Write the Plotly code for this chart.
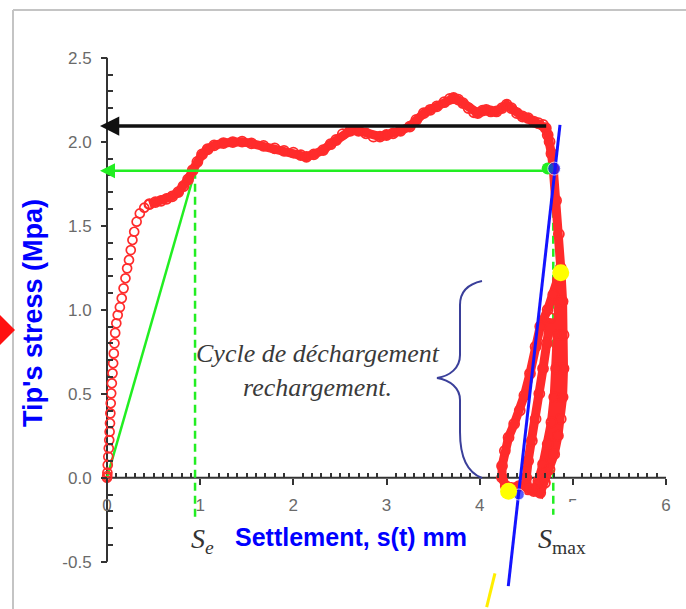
import plotly.graph_objects as go

# ---------------- data ----------------
# initial loading branch: individually visible open circles
load_s_sparse = [0.000, 0.002, 0.004, 0.008, 0.014, 0.019, 0.024, 0.028, 0.032, 0.036,
                 0.040, 0.045, 0.052, 0.059, 0.066, 0.073, 0.080, 0.088, 0.100, 0.115,
                 0.138, 0.158, 0.178, 0.198, 0.216, 0.236, 0.255, 0.273, 0.292, 0.318,
                 0.352, 0.400, 0.455]
load_q_sparse = [0.000, 0.010, 0.030, 0.076, 0.125, 0.175, 0.224, 0.274, 0.324, 0.383,
                 0.443, 0.502, 0.562, 0.621, 0.681, 0.740, 0.800, 0.862, 0.919, 0.968,
                 1.015, 1.068, 1.127, 1.187, 1.246, 1.296, 1.355, 1.415, 1.464, 1.524,
                 1.573, 1.607, 1.628]

# dense part of the curve: plateau, then unloading / reloading cycles
load_s_dense = [0.455, 0.52, 0.58, 0.64, 0.70, 0.765, 0.82, 0.87, 0.92, 0.97,
                1.02, 1.08, 1.15, 1.25, 1.35, 1.45, 1.55, 1.68, 1.80, 1.90,
                2.00, 2.08, 2.14, 2.22, 2.32, 2.40, 2.46, 2.53, 2.61, 2.70,
                2.78, 2.86, 2.93, 3.00, 3.07, 3.15, 3.25, 3.32, 3.40, 3.47,
                3.54, 3.62, 3.68, 3.72, 3.77, 3.82, 3.88, 3.94, 3.98, 4.03,
                4.07, 4.12, 4.18, 4.24, 4.29, 4.34, 4.40, 4.46, 4.52, 4.58,
                4.63, 4.68, 4.71, 4.73, 4.75, 4.77, 4.79,
                4.82, 4.85, 4.87, 4.89, 4.90, 4.90, 4.89, 4.87, 4.84, 4.80,
                4.75, 4.70, 4.65, 4.58, 4.50, 4.42, 4.34, 4.28, 4.24, 4.24,
                4.27, 4.31, 4.37, 4.43, 4.48, 4.54, 4.60, 4.65, 4.73, 4.79,
                4.84, 4.86,
                4.85, 4.84, 4.82, 4.80, 4.77, 4.73, 4.68, 4.63, 4.58, 4.52,
                4.50, 4.52, 4.56, 4.60, 4.64, 4.68, 4.72, 4.76]
load_q_dense = [1.628, 1.640, 1.648, 1.660, 1.675, 1.700, 1.735, 1.775, 1.830, 1.880,
                1.925, 1.955, 1.978, 1.992, 1.998, 2.000, 1.990, 1.975, 1.960, 1.945,
                1.935, 1.920, 1.910, 1.925, 1.950, 1.985, 2.010, 2.045, 2.065, 2.065,
                2.050, 2.030, 2.030, 2.040, 2.050, 2.065, 2.090, 2.130, 2.170, 2.190,
                2.210, 2.235, 2.255, 2.260, 2.250, 2.230, 2.200, 2.175, 2.170, 2.185,
                2.190, 2.180, 2.180, 2.200, 2.220, 2.200, 2.170, 2.150, 2.140, 2.120,
                2.110, 2.100, 2.080, 2.040, 2.000, 1.930, 1.840,
                1.650, 1.450, 1.250, 1.050, 0.850, 0.650, 0.480, 0.350, 0.250, 0.140,
                0.050, -0.030, -0.090, -0.070, -0.050, -0.050, -0.060, -0.050, 0.000, 0.070,
                0.160, 0.240, 0.320, 0.400, 0.490, 0.620, 0.780, 0.900, 1.000, 1.090,
                1.180, 1.220,
                1.050, 0.850, 0.650, 0.480, 0.330, 0.200, 0.080, -0.020, -0.080, -0.070,
                0.000, 0.100, 0.220, 0.350, 0.500, 0.650, 0.800, 0.950]

# characteristic values
q_limit = 2.093          # black arrow level
q_e = 1.827              # green arrow level
s_e = 0.945              # elastic settlement
s_max = 4.79             # maximum settlement
arrow_end_s = [4.73, 4.73]     # right end of black / green arrows
elastic_line_s = [0.0, s_e]
elastic_line_q = [0.0, q_e]
se_dash_q = [q_e, -0.25]
smax_dash_q = [q_e, -0.22]
tangent_s = [4.862, 4.307]
tangent_q = [2.10, -0.645]
green_pt = (4.73, 1.84)
blue_pts_s = [4.80, 4.42]
blue_pts_q = [1.84, -0.10]
yellow_pts_s = [4.87, 4.31]
yellow_pts_q = [1.22, -0.08]
yellow_tick_s = [4.164, 4.075]
yellow_tick_q = [-0.57, -0.77]

x_tick_vals = [0, 1, 2, 3, 4, 5, 6]
x_tick_text = ["0", "1", "2", "3", "4", "5", "6"]
y_tick_vals = [-0.5, 0.0, 0.5, 1.0, 1.5, 2.0, 2.5]
y_tick_text = ["-0.5", "0.0", "0.5", "1.0", "1.5", "2.0", "2.5"]

# ---------------- layout geometry ----------------
W, H = 686, 609
X0PX, XSCALE = 107.0, 93.17     # pixel of s=0, pixels per mm
Y0PX, YSCALE = 477.7, 168.0     # pixel of q=0, pixels per MPa
xr = [(0 - X0PX) / XSCALE, (W - X0PX) / XSCALE]
yr = [(Y0PX - H) / YSCALE, Y0PX / YSCALE]

def dx(p):
    return (p - X0PX) / XSCALE

def dy(p):
    return (Y0PX - p) / YSCALE

RED = "#ff2b2b"
GREEN = "#22ee22"
BLUE = "#1414ff"
YELLOW = "#ffff00"

fig = go.Figure()

fig.add_trace(go.Scatter(x=elastic_line_s, y=elastic_line_q, mode="lines",
                         line=dict(color=GREEN, width=2.5), hoverinfo="skip"))
fig.add_trace(go.Scatter(x=[s_e, s_e], y=se_dash_q, mode="lines",
                         line=dict(color=GREEN, width=2.5, dash="8px,5px"), hoverinfo="skip"))
fig.add_trace(go.Scatter(x=[s_max, s_max], y=smax_dash_q, mode="lines",
                         line=dict(color=GREEN, width=2.5, dash="8px,5px"), hoverinfo="skip"))

fig.add_trace(go.Scatter(x=load_s_sparse, y=load_q_sparse, mode="markers",
                         marker=dict(symbol="circle-open", size=9, color=RED,
                                     line=dict(width=1.7, color=RED)),
                         cliponaxis=False))
fig.add_trace(go.Scatter(x=load_s_dense, y=load_q_dense, mode="lines+markers",
                         line=dict(color=RED, width=9),
                         marker=dict(symbol="circle-open", size=10, color=RED,
                                     line=dict(width=1.8, color=RED))))

fig.add_trace(go.Scatter(x=[green_pt[0]], y=[green_pt[1]], mode="markers",
                         marker=dict(size=12, color=GREEN)))
fig.add_trace(go.Scatter(x=tangent_s, y=tangent_q, mode="lines",
                         line=dict(color=BLUE, width=3)))
fig.add_trace(go.Scatter(x=blue_pts_s, y=blue_pts_q, mode="markers",
                         marker=dict(size=[13, 11], color=BLUE)))
fig.add_trace(go.Scatter(x=yellow_pts_s, y=yellow_pts_q, mode="markers",
                         marker=dict(size=17, color=YELLOW)))
fig.add_trace(go.Scatter(x=yellow_tick_s, y=yellow_tick_q, mode="lines",
                         line=dict(color="#ffee00", width=3)))

# arrows
arrow_tip_s = dx(100)
fig.add_annotation(x=arrow_tip_s, y=q_limit, ax=arrow_end_s[0], ay=q_limit,
                   xref="x", yref="y", axref="x", ayref="y", text="",
                   showarrow=True, arrowhead=2, arrowsize=1.1, arrowwidth=3.5,
                   arrowcolor="#111111", standoff=0)
fig.add_annotation(x=arrow_tip_s, y=q_e, ax=arrow_end_s[1], ay=q_e,
                   xref="x", yref="y", axref="x", ayref="y", text="",
                   showarrow=True, arrowhead=2, arrowsize=1.2, arrowwidth=2.5,
                   arrowcolor=GREEN, standoff=0)

# texts
fig.add_annotation(x=dx(318), y=dy(370), xref="x", yref="y", showarrow=False,
                   text="<i>Cycle de déchargement<br>rechargement.</i>",
                   font=dict(family="Liberation Serif, Times New Roman, serif", size=26, color="#3a3a3a"),
                   align="center")
fig.add_annotation(x=dx(202), y=dy(540), xref="x", yref="y", showarrow=False,
                   text="<i>S</i><sub><i>e</i></sub>",
                   font=dict(family="Liberation Serif, Times New Roman, serif", size=28, color="#333333"))
fig.add_annotation(x=dx(562), y=dy(540), xref="x", yref="y", showarrow=False,
                   text="<i>S</i><sub>max</sub>",
                   font=dict(family="Liberation Serif, Times New Roman, serif", size=28, color="#333333"))
fig.add_annotation(x=dx(351), y=dy(537), xref="x", yref="y", showarrow=False,
                   text="<b>Settlement, s(t) mm</b>",
                   font=dict(family="Liberation Sans, Arial, sans-serif", size=25, color="#0000ff"))
fig.add_annotation(x=dx(33), y=dy(313), xref="x", yref="y", showarrow=False,
                   text="<b>Tip's stress (Mpa)</b>", textangle=-90,
                   font=dict(family="Liberation Sans, Arial, sans-serif", size=27, color="#0000ff"))

# brace
brace_px = [("M", 482, 281), ("C", 468, 284, 460, 292, 460, 305), ("L", 460, 355),
            ("C", 460, 368, 450, 376, 437, 378), ("C", 450, 380, 460, 388, 460, 400),
            ("L", 460, 432), ("C", 460, 455, 466, 472, 482, 478)]
parts = []
for seg in brace_px:
    cmd = seg[0]
    coords = seg[1:]
    pts = []
    for i in range(0, len(coords), 2):
        pts.append(f"{dx(coords[i]):.4f},{dy(coords[i+1]):.4f}")
    parts.append(cmd + " " + " ".join(pts))
brace_path = " ".join(parts)

shapes = [
    dict(type="line", xref="x", yref="y", x0=0, x1=0, y0=-0.5, y1=2.5,
         line=dict(color="#333333", width=2), layer="below"),
    dict(type="line", xref="x", yref="y", x0=0, x1=6, y0=0, y1=0,
         line=dict(color="#333333", width=2), layer="below"),
    dict(type="path", xref="x", yref="y", path=brace_path,
         line=dict(color="#3a3f9a", width=2)),
    # white patch hiding the lower part of the "5" label, as in the source image
    dict(type="rect", xref="x", yref="y", x0=dx(563), x1=dx(583), y0=dy(502), y1=dy(517),
         fillcolor="white", line=dict(width=0), layer="above"),
    dict(type="line", xref="paper", yref="paper", x0=13 / W, x1=1, y0=1 - 10 / H, y1=1 - 10 / H,
         line=dict(color="#c4c4c4", width=2)),
    dict(type="line", xref="paper", yref="paper", x0=13 / W, x1=13 / W, y0=0, y1=1 - 10 / H,
         line=dict(color="#c4c4c4", width=2)),
    dict(type="path", xref="paper", yref="paper",
         path=f"M 0,{1 - 315 / H} L {15 / W},{1 - 330 / H} L 0,{1 - 345 / H} Z",
         fillcolor="#ff1010", line=dict(width=0)),
]

x_minor = [i / 10 for i in range(0, 61) if i % 10 != 0]
y_minor = [i / 10 for i in range(-5, 26) if i % 5 != 0]

fig.update_layout(
    width=W, height=H,
    margin=dict(l=0, r=0, t=0, b=0),
    paper_bgcolor="white", plot_bgcolor="white",
    showlegend=False,
    shapes=shapes,
    xaxis=dict(range=xr, domain=[0, 1], anchor="free", position=1 - Y0PX / H,
               showgrid=False, zeroline=False, showline=False,
               tickmode="array", tickvals=x_tick_vals, ticktext=x_tick_text,
               ticks="outside", ticklen=6, tickwidth=2, tickcolor="#333333",
               tickfont=dict(family="Liberation Sans, Arial, sans-serif", size=17, color="#6a6a6a"),
               ticklabelstandoff=6,
               minor=dict(tickmode="array", tickvals=x_minor, ticks="inside",
                          ticklen=5, tickwidth=1.5, tickcolor="#333333", showgrid=False)),
    yaxis=dict(range=yr, domain=[0, 1], anchor="free", position=X0PX / W,
               showgrid=False, zeroline=False, showline=False,
               tickmode="array", tickvals=y_tick_vals, ticktext=y_tick_text,
               ticks="outside", ticklen=6, tickwidth=2, tickcolor="#333333",
               tickfont=dict(family="Liberation Sans, Arial, sans-serif", size=17, color="#6a6a6a"),
               ticklabelstandoff=6,
               minor=dict(tickmode="array", tickvals=y_minor, ticks="inside",
                          ticklen=5, tickwidth=1.5, tickcolor="#333333", showgrid=False)),
)

fig.write_html("out.html")
